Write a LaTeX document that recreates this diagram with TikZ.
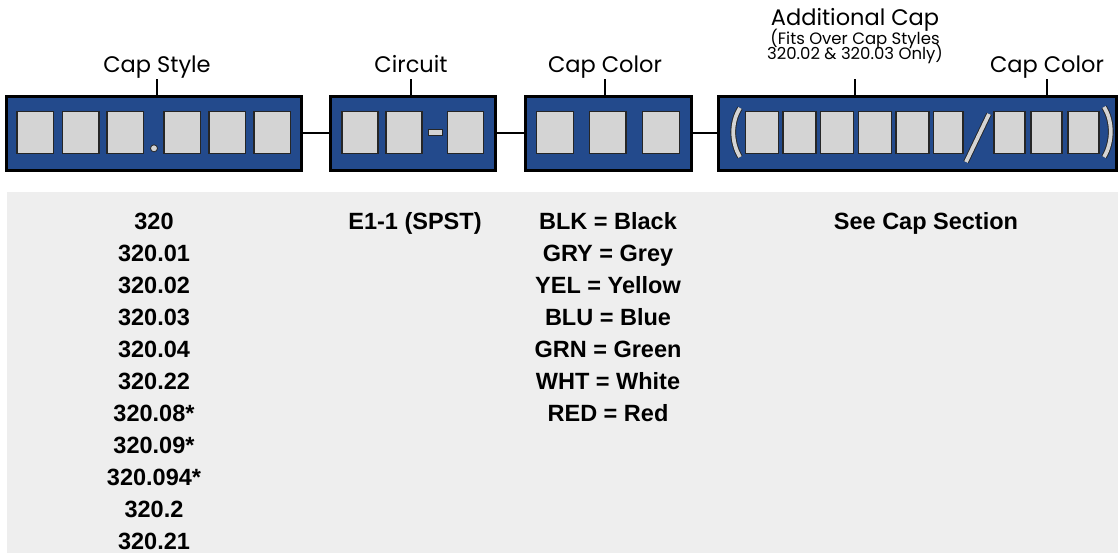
\documentclass[tikz,border=0pt]{standalone}
\usepackage{fontspec}
\setmainfont{Liberation Sans}
\newfontfamily\geofont{Poppins}
\definecolor{azulcaja}{RGB}{35,74,140}
\definecolor{grisslot}{RGB}{212,212,212}
\definecolor{grisfondo}{RGB}{238,238,238}

\begin{document}
\begin{tikzpicture}[x=1pt,y=-1pt,
  caja/.style={draw=black,line width=2.6pt,fill=azulcaja,inner sep=0pt},
  hueco/.style={draw=black!85,line width=1.3pt,fill=grisslot},
  tira/.style={draw=black!85,line width=0.9pt,double=grisslot,double distance=3.8pt},
  rotulo/.style={font=\geofont\fontsize{22.5}{24}\selectfont,inner sep=0pt,anchor=base},
  nota/.style={font=\geofont\fontsize{16.5}{15}\selectfont,inner sep=0pt,align=center,anchor=base},
  valor/.style={font=\bfseries\fontsize{23.5}{26}\selectfont,inner sep=0pt,anchor=base}]
  \useasboundingbox (0,0) rectangle (1118,553);
  % fondo gris de la tabla
  \fill[grisfondo] (7,192) rectangle (1118,553);
  % cajas del codigo
  \node[caja,minimum width=295,minimum height=74.4] (cstyle) at (154.2,133.5) {};
  \node[caja,minimum width=165.4,minimum height=74.4] (ccirc) at (413,133.5) {};
  \node[caja,minimum width=166,minimum height=74.4] (ccolor) at (608.3,133.5) {};
  \node[caja,minimum width=398.4,minimum height=74.4] (cextra) at (917.5,133.5) {};
  \draw[line width=2pt] (cstyle) -- (ccirc);
  \draw[line width=2pt] (ccirc) -- (ccolor);
  \draw[line width=2pt] (ccolor) -- (cextra);
  % huecos
  \foreach \x in {17,62.5,107,164,209,254} \draw[hueco] (\x,111.7) rectangle ++(36.5,41.6);
  \draw[hueco,line width=0.8pt] (154,148.3) circle (3.5); % punto
  \foreach \x in {342,386,447.5} \draw[hueco] (\x,111.7) rectangle ++(36,41.6);
  \draw[hueco,line width=0.8pt] (428.5,129.5) rectangle (442,135.3); % guion
  \foreach \x in {536.7,589.3,642.7} \draw[hueco] (\x,111.7) rectangle ++(36.6,41.6);
  \foreach \x in {745.5,783.1,820.7,858.3,895.9} \draw[hueco] (\x,111.7) rectangle ++(33,41.6);
  \draw[hueco] (933.5,111.7) rectangle ++(29.5,41.6);
  \foreach \x in {994,1031,1068} \draw[hueco] (\x,111.7) rectangle ++(31,41.6);
  \draw[tira] (740,108) .. controls (731,122) and (731,142) .. (740,157); % (
  \draw[tira] (966,162) -- (989,114); % /
  \draw[tira] (1104,107) .. controls (1113,121) and (1113,142) .. (1104,157); % )
  % rotulos de arriba
  \node[rotulo] (lstyle) at (157,73) {Cap Style};
  \node[rotulo] (lcirc) at (411,73) {Circuit};
  \node[rotulo] (lcolor) at (605,73) {Cap Color};
  \node[rotulo] (lextra) at (855,25.5) {Additional Cap};
  \node[nota] (lfits) at (855,59.5) {(Fits Over Cap Styles\\[-6pt]320.02 \& 320.03 Only)};
  \node[rotulo] (lcolor2) at (1047,73) {Cap Color};
  \draw[line width=2pt] (cstyle.north -| lstyle) -- ++(0,-16);
  \draw[line width=2pt] (ccirc.north -| lcirc) -- ++(0,-16);
  \draw[line width=2pt] (ccolor.north -| lcolor) -- ++(0,-16);
  \draw[line width=2pt] (cextra.north -| lextra) -- ++(0,-16);
  \draw[line width=2pt] (cextra.north -| lcolor2) -- ++(0,-16);
  % valores
  \foreach \t [count=\i from 0] in {320,320.01,320.02,320.03,320.04,320.22,320.08*,320.09*,320.094*,320.2,320.21}
    \node[valor] (vstyle\i) at (154,229.3+32*\i) {\t};
  \node[valor] (vcirc) at (415,229.3) {E1-1 (SPST)};
  \foreach \t [count=\i from 0] in {BLK = Black,GRY = Grey,YEL = Yellow,BLU = Blue,GRN = Green,WHT = White,RED = Red}
    \node[valor] (vcolor\i) at (608,229.3+32*\i) {\t};
  \node[valor] (vextra) at (926,229.3) {See Cap Section};
\end{tikzpicture}
\end{document}
